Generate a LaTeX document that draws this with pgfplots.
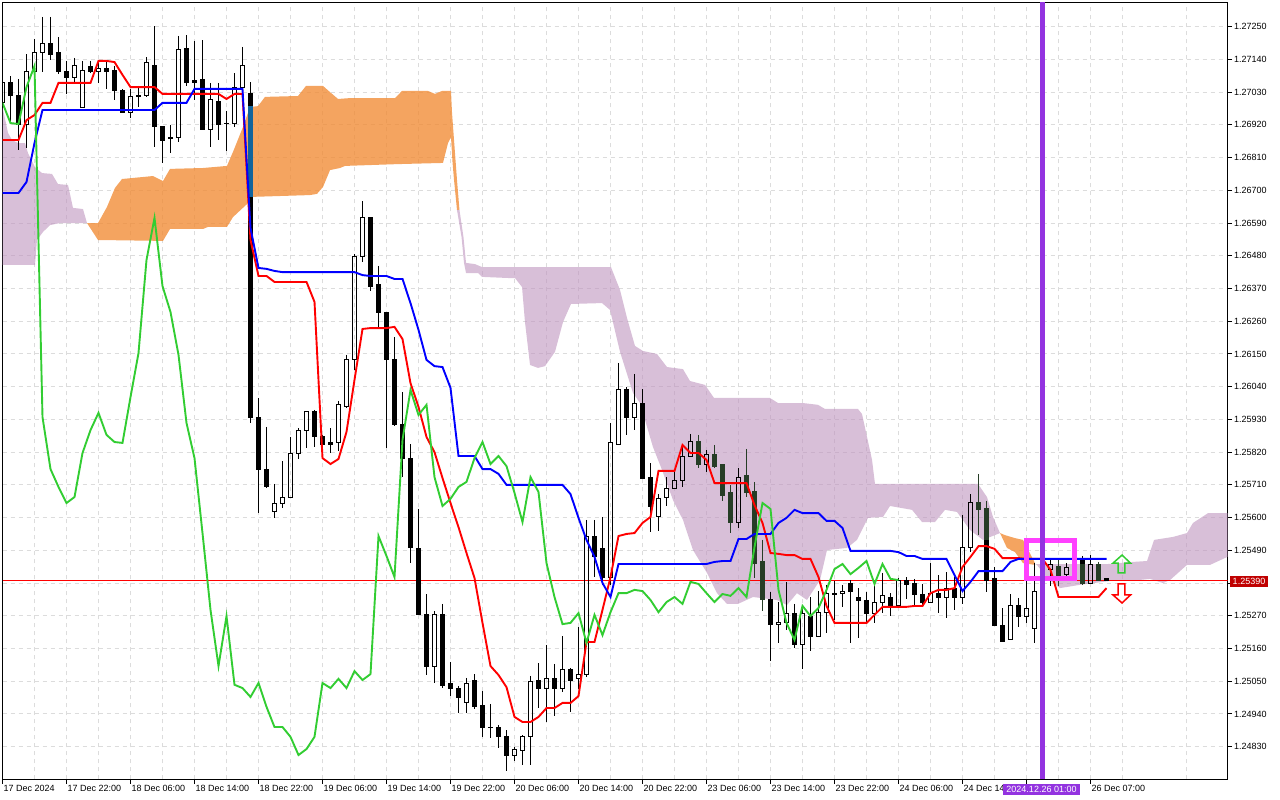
\documentclass[border=0pt]{standalone}
\usepackage{fontspec}
\setmainfont{Liberation Sans}
\usepackage{pgfplots}
\usepackage{pgfplotstable}
\pgfplotsset{compat=1.18}
\definecolor{cloudP}{HTML}{BE94BE}
\definecolor{cloudO}{HTML}{F18D38}
\definecolor{dkg}{HTML}{263D26}
\definecolor{tealc}{HTML}{10649C}
\definecolor{gridc}{HTML}{DCDCDC}
\definecolor{tagc}{HTML}{C00000}
\definecolor{vio}{HTML}{9333E0}
\definecolor{pinkb}{HTML}{FF40FF}
\definecolor{lime}{HTML}{32CD32}
\newcommand\cdl[7]{%
  \pgfmathsetmacro\xa{#3-0.25}\pgfmathsetmacro\xb{#3+0.25}%
  \edef\tmp{\noexpand\addplot[draw=#1,fill=#2,line width=1pt] coordinates {(\xa,#4)(\xb,#4)(\xb,#5)(\xa,#5)} -- cycle;}\tmp
  \addplot[draw=#1,line width=1pt] coordinates {(#3,#6)(#3,#4)};
  \addplot[draw=#1,line width=1pt] coordinates {(#3,#5)(#3,#7)};
}
\newcommand\bu[5]{\cdl{black}{none}{#1}{#2}{#3}{#4}{#5}}
\newcommand\be[5]{\cdl{black}{black}{#1}{#2}{#3}{#4}{#5}}
\newcommand\bg[5]{\cdl{dkg}{dkg}{#1}{#2}{#3}{#4}{#5}}
\pgfplotstableread{
i kijun tenkan chikou
0 1.26691 1.26869 1.26994
1 1.26691 1.26869 1.26926
2 1.26691 1.26869 1.26923
3 1.26728 1.26936 1.27047
4 1.26859 1.26953 1.27118
5 1.26970 1.26994 1.25938
6 1.26970 1.26994 1.25763
7 1.26970 1.27061 1.25703
8 1.26970 1.27061 1.25649
9 1.26970 1.27061 1.25669
10 1.26970 1.27061 1.25817
11 1.26970 1.27061 1.25894
12 1.26970 1.27135 1.25952
13 1.26970 1.27135 1.25878
14 1.26970 1.27131 1.25854
15 1.26970 1.27088 1.25851
16 1.26970 1.27047 1.26005
17 1.26970 1.27047 1.26153
18 1.26970 1.27047 1.26466
19 1.26970 1.27047 1.26607
20 1.26994 1.27024 1.26378
21 1.26994 1.27024 1.26291
22 1.26994 1.27024 1.26147
23 1.26994 1.27024 1.25918
24 1.27041 1.27024 1.25800
25 1.27041 1.27024 1.25548
26 1.27041 1.27024 1.25290
27 1.27041 1.27024 1.25101
28 1.27041 1.27007 1.25269
29 1.27041 1.27024 1.25038
30 1.27041 1.27024 1.25027
31 1.26573 1.26533 1.24997
32 1.26439 1.26412 1.25044
33 1.26436 1.26412 1.24964
34 1.26429 1.26392 1.24896
35 1.26425 1.26392 1.24896
36 1.26425 1.26392 1.24863
37 1.26425 1.26392 1.24802
38 1.26425 1.26392 1.24822
39 1.26425 1.26325 1.24863
40 1.26425 1.25800 1.25044
41 1.26425 1.25780 1.25027
42 1.26425 1.25797 1.25058
43 1.26425 1.25888 1.25027
44 1.26425 1.26063 1.25084
45 1.26415 1.26234 1.25054
46 1.26412 1.26237 1.25074
47 1.26412 1.26237 1.25538
48 1.26412 1.26237 1.25471
49 1.26402 1.26241 1.25400
50 1.26402 1.26200 1.25861
51 1.26321 1.26052 1.26029
52 1.26231 1.25972 1.25945
53 1.26130 1.25871 1.25979
54 1.26109 1.25820 1.25736
55 1.26106 1.25733 1.25639
56 1.26036 1.25649 1.25663
57 1.25807 1.25568 1.25703
58 1.25807 1.25481 1.25720
59 1.25807 1.25397 1.25800
60 1.25763 1.25246 1.25854
61 1.25763 1.25101 1.25780
62 1.25747 1.25071 1.25807
63 1.25710 1.25030 1.25773
64 1.25710 1.24930 1.25683
65 1.25710 1.24913 1.25585
66 1.25710 1.24913 1.25736
67 1.25710 1.24930 1.25686
68 1.25710 1.24960 1.25447
69 1.25710 1.24960 1.25333
70 1.25710 1.24977 1.25242
71 1.25679 1.24977 1.25246
72 1.25599 1.25000 1.25279
73 1.25525 1.25182 1.25179
74 1.25468 1.25182 1.25273
75 1.25380 1.25290 1.25205
76 1.25333 1.25400 1.25282
77 1.25444 1.25538 1.25346
78 1.25444 1.25545 1.25346
79 1.25444 1.25548 1.25357
80 1.25444 1.25582 1.25353
81 1.25444 1.25602 1.25323
82 1.25444 1.25757 1.25282
83 1.25444 1.25757 1.25316
84 1.25444 1.25757 1.25333
85 1.25444 1.25844 1.25310
86 1.25444 1.25817 1.25384
87 1.25444 1.25817 1.25377
88 1.25444 1.25794 1.25346
89 1.25451 1.25716 1.25316
90 1.25454 1.25716 1.25343
91 1.25454 1.25716 1.25337
92 1.25528 1.25716 1.25363
93 1.25528 1.25716 1.25333
94 1.25545 1.25642 1.25501
95 1.25545 1.25582 1.25649
96 1.25545 1.25481 1.25629
97 1.25582 1.25478 1.25357
98 1.25599 1.25474 1.25246
99 1.25626 1.25474 1.25189
100 1.25615 1.25461 1.25303
101 1.25615 1.25461 1.25269
102 1.25615 1.25400 1.25296
103 1.25589 1.25303 1.25357
104 1.25589 1.25246 1.25427
105 1.25565 1.25246 1.25444
106 1.25488 1.25246 1.25410
107 1.25488 1.25246 1.25431
108 1.25488 1.25246 1.25454
109 1.25488 1.25273 1.25377
110 1.25488 1.25300 1.25444
111 1.25488 1.25300 1.25394
112 1.25484 1.25300 1.25390
113 1.25471 1.25300 nan
114 1.25471 1.25303 nan
115 1.25461 1.25303 nan
116 1.25461 1.25346 nan
117 1.25461 1.25357 nan
118 1.25461 1.25357 nan
119 1.25407 1.25363 nan
120 1.25353 1.25434 nan
121 1.25384 1.25468 nan
122 1.25420 1.25504 nan
123 1.25420 1.25504 nan
124 1.25420 1.25495 nan
125 1.25420 1.25464 nan
126 1.25451 1.25464 nan
127 1.25461 1.25464 nan
128 1.25461 1.25461 nan
129 1.25461 1.25461 nan
130 1.25461 1.25461 nan
131 1.25461 1.25424 nan
132 1.25461 1.25333 nan
133 1.25461 1.25333 nan
134 1.25461 1.25333 nan
135 1.25461 1.25333 nan
136 1.25461 1.25333 nan
137 1.25461 1.25333 nan
138 1.25461 1.25363 nan
}\lines
\begin{document}
\begin{tikzpicture}[x=1pt,y=1pt]
\path[use as bounding box] (0,0) rectangle (1280,800);
\begin{axis}[
  at={(2.5pt,20.5pt)},anchor=south west,scale only axis,
  width=1225pt,height=777pt,
  xmin=0,xmax=153.125,ymin=1.247197,ymax=1.273313,
  axis line style={line width=1pt,black},
  xtick={0,8,...,136},
  xticklabels={17 Dec 2024,17 Dec 22:00,18 Dec 06:00,18 Dec 14:00,18 Dec 22:00,19 Dec 06:00,19 Dec 14:00,19 Dec 22:00,20 Dec 06:00,20 Dec 14:00,20 Dec 22:00,23 Dec 06:00,23 Dec 14:00,23 Dec 22:00,24 Dec 06:00,24 Dec 14,,26 Dec 07:00},
  minor xtick={4,12,...,152},
  ytick={1.2725,1.2714,1.2703,1.2692,1.2681,1.2670,1.2659,1.2648,1.2637,1.2626,1.2615,1.2604,1.2593,1.2582,1.2571,1.2560,1.2549,1.2538,1.2527,1.2516,1.2505,1.2494,1.2483},
  yticklabels={1.27250,1.27140,1.27030,1.26920,1.26810,1.26700,1.26590,1.26480,1.26370,1.26260,1.26150,1.26040,1.25930,1.25820,1.25710,1.25600,1.25490,1.25380,1.25270,1.25160,1.25050,1.24940,1.24830},
  xtick pos=bottom,ytick pos=right,yticklabel pos=right,
  tick align=outside,major tick length=4.5pt,minor tick length=0pt,
  tick style={black,line width=1pt},
  grid=major,xminorgrids=true,
  major grid style={gridc,line width=1pt,dash pattern=on 4pt off 4pt},
  minor grid style={gridc,line width=1pt,dash pattern=on 4pt off 4pt},
  x tick label style={anchor=north west,inner sep=0pt,xshift=1pt,yshift=-1.5pt,font=\fontsize{9}{10}\selectfont},
  y tick label style={anchor=west,inner sep=0pt,xshift=2pt,font=\fontsize{9}{10}\selectfont},
]
% --- clouds
\addplot[fill=cloudP,fill opacity=.6,draw=none] coordinates {
(0,1.26980)(.69,1.26893)(1.19,1.26869)(1.94,1.26859)(2.81,1.26859)(3.19,1.26825)(4.06,1.26778)(4.94,1.26758)(6.19,1.26755)(6.94,1.26721)(8.19,1.26718)(8.81,1.26641)(10.06,1.26637)(10.56,1.26590)
(7.19,1.26590)(5.94,1.26583)(5.06,1.26560)(4.31,1.26533)(4.06,1.26449)(0,1.26449)} -- cycle;
\addplot[fill=cloudO,fill opacity=.8,draw=none] coordinates {
(10.56,1.26590)(11.94,1.26590)(13.06,1.26644)(14.06,1.26708)(14.94,1.26738)(18.81,1.26748)(20.06,1.26731)(20.94,1.26772)(25.06,1.26775)(28.06,1.26782)(28.81,1.26829)(30.06,1.26913)(30.94,1.26980)(31.94,1.26983)(32.81,1.27014)(36.94,1.27017)(37.94,1.27051)(40.06,1.27051)(40.94,1.27030)(41.94,1.27007)(43.44,1.27010)(49.06,1.27010)(49.94,1.27034)(53.19,1.27034)(54.06,1.27024)(54.94,1.27034)(56.06,1.27034)(56.19,1.26960)(56.44,1.26869)(56.81,1.26735)(57.12,1.26634)
(56.81,1.26634)(56.44,1.26735)(56.25,1.26795)(56.06,1.26879)(55.69,1.26859)(55.06,1.26792)(49.31,1.26788)(42.81,1.26782)(42.19,1.26775)(40.94,1.26768)(40.06,1.26711)(39.31,1.26688)(38.44,1.26684)(31.31,1.26678)(30.69,1.26657)(28.81,1.26610)(28.06,1.26577)(25.69,1.26577)(25.06,1.26570)(20.94,1.26570)(20.06,1.26530)(11.94,1.26533)} -- cycle;
\addplot[fill=cloudP,fill opacity=.6,draw=none] coordinates {
(57.12,1.26634)(57.62,1.26543)(57.94,1.26456)(59.06,1.26452)(59.94,1.26442)(76.06,1.26442)(77.19,1.26365)(78.06,1.26271)(79.06,1.26177)(80.06,1.26160)(81.81,1.26150)(83.06,1.26106)(85.06,1.26099)(85.94,1.26059)(87.81,1.26046)(88.94,1.26002)(95.94,1.26002)(96.94,1.25985)(100.06,1.25985)(101.94,1.25979)(102.81,1.25965)(106.94,1.25965)(107.44,1.25948)(108.69,1.25794)(109.06,1.25713)(121.94,1.25713)(123.06,1.25669)(123.81,1.25602)(124.69,1.25548)
(122.56,1.25525)(120.94,1.25558)(119.31,1.25619)(117.81,1.25626)(116.56,1.25585)(114.94,1.25585)(113.69,1.25626)(110.94,1.25639)(110.06,1.25602)(108.19,1.25599)(106.81,1.25525)(105.56,1.25498)(103.06,1.25491)(102.19,1.25390)(100.56,1.25323)(99.31,1.25346)(98.06,1.25306)(96.81,1.25323)(93.81,1.25333)(91.94,1.25310)(90.56,1.25310)(89.31,1.25346)(88.06,1.25414)(86.31,1.25491)(85.06,1.25592)(83.81,1.25659)(82.44,1.25760)(81.31,1.25837)(79.69,1.25985)(78.81,1.26019)(77.19,1.26157)(75.94,1.26298)(74.94,1.26321)(71.06,1.26318)(70.06,1.26257)(69.06,1.26157)(67.81,1.26109)(66.94,1.26103)(65.94,1.26113)(65.31,1.26257)(64.94,1.26375)(64.06,1.26405)(63.44,1.26405)(59.94,1.26409)(59.44,1.26422)(57.94,1.26422)(57.69,1.26456)(57.38,1.26543)(56.81,1.26634)} -- cycle;
\addplot[fill=cloudO,fill opacity=.8,draw=none] coordinates {
(124.69,1.25548)(125.31,1.25541)(126.56,1.25531)(127.56,1.25525)(129.06,1.25447)(129.06,1.25441)(127.56,1.25447)(126.56,1.25484)(125.56,1.25498)} -- cycle;
\addplot[fill=cloudP,fill opacity=.6,draw=none] coordinates {
(129.06,1.25444)(130.56,1.25444)(138.19,1.25444)(141.31,1.25451)(143.06,1.25454)(143.94,1.25525)(146.31,1.25535)(148.06,1.25548)(148.81,1.25582)(150.69,1.25615)(153.125,1.25615)
(153.125,1.25468)(150.94,1.25441)(148.06,1.25441)(145.94,1.25390)(145.06,1.25380)(143.44,1.25394)(140.94,1.25387)(138.44,1.25387)(134.69,1.25374)(132.19,1.25363)(130.56,1.25397)(129.31,1.25441)} -- cycle;
% --- current price line
\addplot[red,line width=1pt] coordinates {(0,1.25390)(153.125,1.25390)};
% --- candles: index, body top, body bottom, high, low
\bu{0}{1.27061}{1.26994}{1.27088}{1.26970}
\be{1}{1.27061}{1.27017}{1.27084}{1.26926}
\be{2}{1.27020}{1.26920}{1.27074}{1.26836}
\bu{3}{1.27101}{1.26920}{1.27158}{1.26842}
\bu{4}{1.27162}{1.27098}{1.27209}{1.27037}
\bu{5}{1.27195}{1.27162}{1.27283}{1.27098}
\be{6}{1.27195}{1.27155}{1.27283}{1.27138}
\be{7}{1.27162}{1.27101}{1.27215}{1.27091}
\be{8}{1.27101}{1.27078}{1.27135}{1.27024}
\bu{9}{1.27121}{1.27078}{1.27145}{1.27061}
\bu{10}{1.27104}{1.26980}{1.27135}{1.26980}
\be{11}{1.27115}{1.27098}{1.27135}{1.27094}
\bu{12}{1.27111}{1.27098}{1.27135}{1.27061}
\be{13}{1.27111}{1.27101}{1.27135}{1.27041}
\be{14}{1.27104}{1.27034}{1.27118}{1.27004}
\be{15}{1.27037}{1.26963}{1.27041}{1.26960}
\bu{16}{1.27014}{1.26963}{1.27041}{1.26943}
\be{17}{1.27020}{1.27014}{1.27051}{1.26980}
\bu{18}{1.27128}{1.27017}{1.27148}{1.27014}
\be{19}{1.27121}{1.26913}{1.27252}{1.26846}
\be{20}{1.26913}{1.26869}{1.26913}{1.26792}
\be{21}{1.26876}{1.26873}{1.26920}{1.26825}
\bu{22}{1.27172}{1.26876}{1.27219}{1.26862}
\be{23}{1.27175}{1.27064}{1.27222}{1.27051}
\be{24}{1.27068}{1.27064}{1.27202}{1.27004}
\be{25}{1.27071}{1.26906}{1.27205}{1.26903}
\bu{26}{1.27004}{1.26906}{1.27061}{1.26846}
\be{27}{1.27000}{1.26920}{1.27061}{1.26869}
\be{28}{1.26926}{1.26923}{1.26967}{1.26832}
\bu{29}{1.27047}{1.26926}{1.27094}{1.26913}
\bu{30}{1.27121}{1.27047}{1.27182}{1.27047}
\be{31}{1.27027}{1.25938}{1.27064}{1.25918}
\cdl{tealc}{tealc}{31}{1.26983}{1.26678}{1.26983}{1.26678}
\be{32}{1.25938}{1.25763}{1.26002}{1.25615}
\be{33}{1.25760}{1.25706}{1.25905}{1.25699}
\bu{34}{1.25649}{1.25622}{1.25713}{1.25599}
\bu{35}{1.25669}{1.25649}{1.25790}{1.25632}
\bu{36}{1.25817}{1.25669}{1.25871}{1.25669}
\bu{37}{1.25894}{1.25817}{1.25901}{1.25797}
\bu{38}{1.25955}{1.25894}{1.25958}{1.25834}
\be{39}{1.25955}{1.25871}{1.25962}{1.25837}
\be{40}{1.25871}{1.25847}{1.25878}{1.25847}
\be{41}{1.25851}{1.25847}{1.25901}{1.25817}
\bu{42}{1.25979}{1.25851}{1.25992}{1.25824}
\bu{43}{1.26133}{1.25972}{1.26147}{1.25968}
\bu{44}{1.26476}{1.26133}{1.26486}{1.26096}
\bu{45}{1.26607}{1.26479}{1.26664}{1.26459}
\be{46}{1.26607}{1.26378}{1.26607}{1.26362}
\be{47}{1.26382}{1.26291}{1.26446}{1.26241}
\be{48}{1.26291}{1.26133}{1.26291}{1.25834}
\be{49}{1.26133}{1.25914}{1.26207}{1.25908}
\be{50}{1.25914}{1.25800}{1.26022}{1.25736}
\be{51}{1.25800}{1.25501}{1.25847}{1.25447}
\be{52}{1.25495}{1.25273}{1.25629}{1.25273}
\be{53}{1.25273}{1.25098}{1.25343}{1.25071}
\bu{54}{1.25273}{1.25098}{1.25286}{1.25044}
\be{55}{1.25273}{1.25034}{1.25310}{1.25027}
\be{56}{1.25041}{1.25024}{1.25115}{1.25000}
\be{57}{1.25024}{1.24994}{1.25034}{1.24943}
\bu{58}{1.25044}{1.24977}{1.25061}{1.24943}
\be{59}{1.25054}{1.24964}{1.25074}{1.24957}
\be{60}{1.24967}{1.24893}{1.25017}{1.24863}
\be{61}{1.24896}{1.24893}{1.24974}{1.24859}
\be{62}{1.24896}{1.24863}{1.24903}{1.24826}
\be{63}{1.24863}{1.24799}{1.24886}{1.24748}
\bu{64}{1.24822}{1.24799}{1.24829}{1.24782}
\bu{65}{1.24863}{1.24816}{1.24869}{1.24769}
\bu{66}{1.25048}{1.24863}{1.25068}{1.24769}
\be{67}{1.25054}{1.25024}{1.25111}{1.24960}
\bu{68}{1.25058}{1.25024}{1.25172}{1.24913}
\be{69}{1.25058}{1.25024}{1.25108}{1.24933}
\bu{70}{1.25088}{1.25027}{1.25202}{1.25014}
\be{71}{1.25088}{1.25051}{1.25095}{1.24947}
\bu{72}{1.25071}{1.25058}{1.25232}{1.25024}
\bu{73}{1.25538}{1.25071}{1.25592}{1.25064}
\be{74}{1.25538}{1.25468}{1.25592}{1.25400}
\be{75}{1.25495}{1.25400}{1.25602}{1.25374}
\bu{76}{1.25851}{1.25397}{1.25918}{1.25374}
\bu{77}{1.26032}{1.25847}{1.26120}{1.25847}
\be{78}{1.26029}{1.25938}{1.26039}{1.25878}
\bu{79}{1.25982}{1.25938}{1.26083}{1.25894}
\be{80}{1.25982}{1.25733}{1.26032}{1.25733}
\be{81}{1.25736}{1.25636}{1.25783}{1.25552}
\bu{82}{1.25663}{1.25602}{1.25679}{1.25555}
\bu{83}{1.25699}{1.25666}{1.25736}{1.25639}
\bu{84}{1.25723}{1.25699}{1.25753}{1.25699}
\bu{85}{1.25804}{1.25723}{1.25844}{1.25703}
\bu{86}{1.25857}{1.25804}{1.25881}{1.25804}
\bg{87}{1.25857}{1.25777}{1.25878}{1.25767}
\bu{88}{1.25811}{1.25780}{1.25827}{1.25753}
\bg{89}{1.25811}{1.25773}{1.25844}{1.25767}
\bg{90}{1.25777}{1.25673}{1.25777}{1.25656}
\bg{91}{1.25683}{1.25582}{1.25710}{1.25548}
\bu{92}{1.25736}{1.25582}{1.25767}{1.25565}
\bg{93}{1.25740}{1.25686}{1.25831}{1.25669}
\bg{94}{1.25689}{1.25447}{1.25720}{1.25397}
\bg{95}{1.25451}{1.25326}{1.25525}{1.25286}
\be{96}{1.25326}{1.25242}{1.25350}{1.25118}
\bu{97}{1.25249}{1.25242}{1.25316}{1.25179}
\bu{98}{1.25279}{1.25249}{1.25384}{1.25222}
\be{99}{1.25276}{1.25172}{1.25310}{1.25162}
\bu{100}{1.25276}{1.25175}{1.25306}{1.25091}
\be{101}{1.25269}{1.25202}{1.25333}{1.25152}
\bu{102}{1.25282}{1.25202}{1.25353}{1.25202}
\bu{103}{1.25346}{1.25282}{1.25374}{1.25212}
\be{104}{1.25346}{1.25343}{1.25387}{1.25256}
\bu{105}{1.25350}{1.25346}{1.25374}{1.25300}
\be{106}{1.25380}{1.25353}{1.25390}{1.25179}
\be{107}{1.25333}{1.25320}{1.25363}{1.25195}
\be{108}{1.25323}{1.25279}{1.25350}{1.25246}
\bu{109}{1.25313}{1.25279}{1.25374}{1.25246}
\bu{110}{1.25337}{1.25313}{1.25414}{1.25279}
\be{111}{1.25333}{1.25306}{1.25346}{1.25269}
\bu{112}{1.25387}{1.25306}{1.25397}{1.25306}
\be{113}{1.25390}{1.25374}{1.25400}{1.25326}
\be{114}{1.25377}{1.25340}{1.25394}{1.25303}
\be{115}{1.25343}{1.25313}{1.25377}{1.25300}
\bu{116}{1.25346}{1.25313}{1.25447}{1.25313}
\be{117}{1.25346}{1.25333}{1.25407}{1.25279}
\bu{118}{1.25363}{1.25333}{1.25417}{1.25263}
\be{119}{1.25363}{1.25330}{1.25400}{1.25290}
\bu{120}{1.25501}{1.25333}{1.25609}{1.25310}
\bu{121}{1.25652}{1.25498}{1.25679}{1.25484}
\bg{122}{1.25652}{1.25626}{1.25747}{1.25541}
\be{123}{1.25629}{1.25390}{1.25656}{1.25350}
\cdl{dkg}{dkg}{123}{1.25629}{1.25525}{1.25656}{1.25525}
\be{124}{1.25394}{1.25236}{1.25434}{1.25236}
\be{125}{1.25236}{1.25185}{1.25296}{1.25182}
\bu{126}{1.25306}{1.25189}{1.25343}{1.25189}
\be{127}{1.25306}{1.25266}{1.25330}{1.25232}
\bu{128}{1.25296}{1.25266}{1.25390}{1.25246}
\bu{129}{1.25353}{1.25226}{1.25447}{1.25179}
\bu{130}{1.25417}{1.25357}{1.25447}{1.25340}
\bu{131}{1.25444}{1.25424}{1.25457}{1.25370}
\bg{132}{1.25437}{1.25407}{1.25457}{1.25370}
\bu{133}{1.25431}{1.25410}{1.25447}{1.25397}
\be{134}{1.25437}{1.25407}{1.25464}{1.25390}
\be{135}{1.25458}{1.25377}{1.25471}{1.25374}
\cdl{dkg}{dkg}{135}{1.25444}{1.25377}{1.25444}{1.25374}
\bu{136}{1.25444}{1.25377}{1.25474}{1.25377}
\bg{137}{1.25444}{1.25390}{1.25451}{1.25390}
\be{138}{1.25394}{1.25387}{1.25394}{1.25387}
% --- indicator lines
\addplot[red,line width=1.9pt] table[x=i,y=tenkan] {\lines};
\addplot[blue,line width=1.9pt] table[x=i,y=kijun] {\lines};
\addplot[lime,line width=1.9pt,unbounded coords=jump] table[x=i,y=chikou] {\lines};
% --- highlighted zone, time marker, arrows
\addplot[pinkb,line width=5pt] coordinates {(128,1.25523)(134,1.25523)(134,1.25395)(128,1.25395)} -- cycle;
\addplot[vio,line width=5pt] coordinates {(130,1.247197)(130,1.273313)};
\addplot[lime,line width=1.5pt] coordinates {(139.94,1.25474)(138.81,1.25447)(139.44,1.25447)(139.44,1.25414)(140.31,1.25414)(140.31,1.25447)(141,1.25447)} -- cycle;
\addplot[red,fill=white,line width=1.5pt] coordinates {(139.44,1.25377)(140.31,1.25377)(140.31,1.25340)(141,1.25340)(139.94,1.25313)(138.81,1.25340)(139.44,1.25340)} -- cycle;
\end{axis}
\node[fill=tagc,text=white,inner sep=0pt,minimum width=38pt,minimum height=11pt,font=\fontsize{9}{10}\selectfont] at (1249,218.5) {1.25390};
\node[fill=vio,text=white,inner sep=0pt,minimum width=77pt,minimum height=11pt,font=\fontsize{9}{10}\selectfont] at (1041.5,10.5) {2024.12.26 01:00};
\end{tikzpicture}
\end{document}
